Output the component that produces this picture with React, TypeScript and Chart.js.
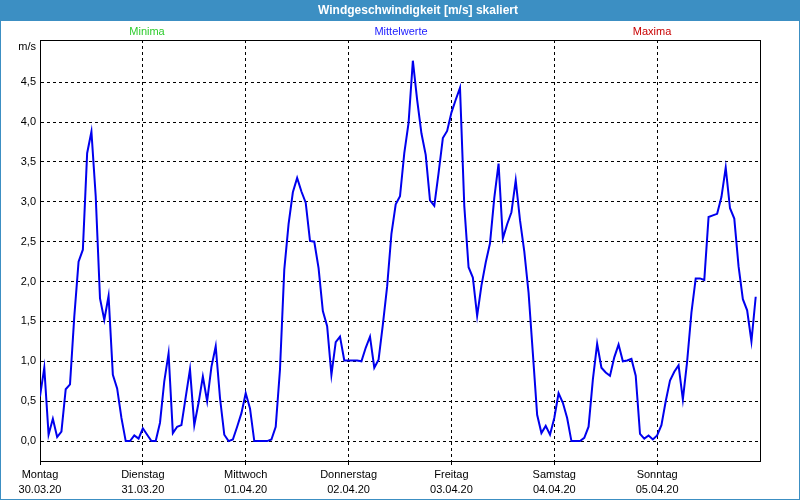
import React, { useEffect, useRef } from "react";
import { Chart, registerables } from "chart.js";

Chart.register(...registerables);

const chartTitle = "Windgeschwindigkeit [m/s] skaliert";
const seriesNames = ["Minima", "Mittelwerte", "Maxima"];
const seriesColors = ["#2ecc2e", "#1a1aff", "#c80000"];
const yUnit = "m/s";

const dayNames = ["Montag", "Dienstag", "Mittwoch", "Donnerstag", "Freitag", "Samstag", "Sonntag"];
const dayDates = ["30.03.20", "31.03.20", "01.04.20", "02.04.20", "03.04.20", "04.04.20", "05.04.20"];
const yTickValues = [0, 0.5, 1, 1.5, 2, 2.5, 3, 3.5, 4, 4.5];

// hourly mean wind speed [m/s], starting Monday 30.03.20 00:00
const meanValues = [
  0.56, 0.92, 0.08, 0.28, 0.05, 0.12, 0.65, 0.71, 1.56, 2.25, 2.4, 3.61,
  3.88, 3.07, 1.79, 1.52, 1.82, 0.83, 0.66, 0.29, 0.0, 0.0, 0.07, 0.03,
  0.16, 0.08, 0.0, 0.0, 0.23, 0.75, 1.1, 0.1, 0.18, 0.2, 0.55, 0.9,
  0.2, 0.48, 0.81, 0.5, 0.93, 1.19, 0.54, 0.08, 0.0, 0.02, 0.18, 0.35,
  0.6, 0.41, 0.0, 0.0, 0.0, 0.0, 0.02, 0.18, 0.9, 2.15, 2.72, 3.12,
  3.3, 3.13, 2.99, 2.51, 2.5, 2.17, 1.63, 1.44, 0.83, 1.24, 1.31, 1.01,
  1.01, 1.01, 1.01, 1.0, 1.17, 1.31, 0.92, 1.02, 1.46, 1.94, 2.6, 2.97,
  3.07, 3.61, 3.99, 4.77, 4.28, 3.86, 3.59, 3.02, 2.95, 3.36, 3.8, 3.89,
  4.12, 4.28, 4.43, 2.95, 2.18, 2.05, 1.57, 1.95, 2.24, 2.48, 3.05, 3.48,
  2.54, 2.72, 2.87, 3.27, 2.77, 2.38, 1.86, 1.1, 0.33, 0.1, 0.19, 0.08,
  0.29, 0.6, 0.48, 0.29, 0.0, 0.0, 0.0, 0.04, 0.18, 0.77, 1.22, 0.92,
  0.86, 0.82, 1.05, 1.21, 1.0, 1.01, 1.03, 0.82, 0.09, 0.03, 0.07, 0.02,
  0.07, 0.2, 0.5, 0.76, 0.87, 0.95, 0.52, 1.0, 1.61, 2.04, 2.04, 2.02,
  2.81, 2.83, 2.85, 3.06, 3.43, 2.92, 2.79, 2.19, 1.78, 1.64, 1.25, 1.81,
];

const FONT = "'Liberation Sans', Arial, sans-serif";
const FRAME_BLUE = "#3c8fc3";
const hoursPerDay = 24;
const totalHours = dayNames.length * hoursPerDay;

const framePlugin = {
  id: "framePlugin",
  beforeDraw(chart: any) {
    const { ctx, width, height } = chart;
    ctx.save();
    ctx.fillStyle = "#ffffff";
    ctx.fillRect(0, 0, width, height);
    ctx.fillStyle = FRAME_BLUE;
    ctx.fillRect(0, 0, width, 21);
    ctx.strokeStyle = FRAME_BLUE;
    ctx.lineWidth = 1;
    ctx.strokeRect(0.5, 0.5, width - 1, height - 1);
    ctx.fillStyle = "#ffffff";
    ctx.font = "bold 12px " + FONT;
    ctx.textAlign = "center";
    ctx.textBaseline = "middle";
    ctx.fillText(chartTitle, 418, 11);
    ctx.font = "11px " + FONT;
    const capX = [147, 401, 652];
    seriesNames.forEach((n, i) => {
      ctx.fillStyle = seriesColors[i];
      ctx.fillText(n, capX[i], 32);
    });
    ctx.fillStyle = "#000000";
    ctx.textAlign = "right";
    ctx.fillText(yUnit, 36, 47);
    ctx.restore();
  },
  beforeDatasetsDraw(chart: any) {
    const { ctx, chartArea } = chart;
    ctx.save();
    ctx.strokeStyle = "#000000";
    ctx.lineWidth = 1;
    ctx.setLineDash([]);
    ctx.strokeRect(
      Math.round(chartArea.left) + 0.5,
      Math.round(chartArea.top) + 0.5,
      Math.round(chartArea.right - chartArea.left),
      Math.round(chartArea.bottom - chartArea.top)
    );
    ctx.restore();
  },
};

export default function App() {
  const canvasRef = useRef<HTMLCanvasElement | null>(null);

  useEffect(() => {
    if (!canvasRef.current) return;
    const data = meanValues.map((v, i) => ({ x: i, y: v }));
    const chart = new Chart(canvasRef.current, {
      type: "line",
      data: {
        datasets: [
          {
            label: seriesNames[1],
            data,
            borderColor: "#0000ee",
            borderWidth: 2,
            pointRadius: 0,
            tension: 0,
            fill: false,
          },
        ],
      },
      plugins: [framePlugin],
      options: {
        responsive: false,
        animation: false,
        devicePixelRatio: 1,
        layout: { padding: { top: 40, right: 40, left: 0, bottom: 0 } },
        plugins: {
          legend: { display: false },
          title: { display: false },
          tooltip: { enabled: false },
        },
        scales: {
          x: {
            type: "linear",
            min: 0,
            max: totalHours,
            afterBuildTicks: (scale: any) => {
              scale.ticks = dayNames
                .map((_, i) => ({ value: i * hoursPerDay }))
                .concat([{ value: totalHours }]);
            },
            afterFit: (scale: any) => {
              scale.height = 39;
            },
            grid: {
              color: "#000000",
              lineWidth: 1,
              drawTicks: true,
              tickLength: 4,
              tickColor: (c: any) =>
                c.tick && c.tick.value === totalHours ? "rgba(0,0,0,0)" : "#000000",
            },
            border: { display: true, color: "#000000", dash: [3, 3] },
            ticks: {
              autoSkip: false,
              maxRotation: 0,
              minRotation: 0,
              padding: 2,
              color: "#000000",
              font: { family: FONT, size: 11, lineHeight: "15px" },
              callback: (v: any) => {
                const i = Math.round(Number(v) / hoursPerDay);
                return i < dayNames.length ? [dayNames[i], dayDates[i]] : "";
              },
            },
          },
          y: {
            type: "linear",
            min: -0.25,
            max: 5.03,
            afterBuildTicks: (scale: any) => {
              scale.ticks = yTickValues.map((v) => ({ value: v }));
            },
            afterFit: (scale: any) => {
              scale.width = 40;
            },
            grid: {
              color: "#000000",
              lineWidth: 1,
              drawTicks: false,
            },
            border: { display: true, color: "#000000", dash: [3, 3] },
            ticks: {
              padding: 4,
              color: "#000000",
              font: { family: FONT, size: 11 },
              callback: (v: any) => Number(v).toFixed(1).replace(".", ","),
            },
          },
        },
      },
    });
    return () => chart.destroy();
  }, []);

  return (
    <div style={{ position: "fixed", left: 0, top: 0, width: 800, height: 500 }}>
      <canvas ref={canvasRef} width={800} height={500} style={{ width: 800, height: 500, display: "block" }} />
    </div>
  );
}
